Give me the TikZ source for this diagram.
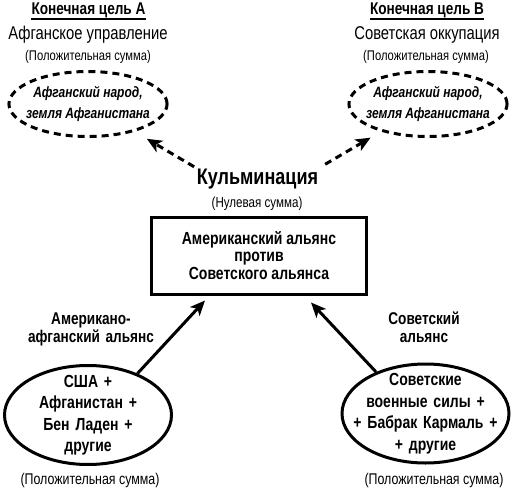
\documentclass[tikz,border=0pt]{standalone}
\usepackage{fontspec}
\setmainfont{Liberation Sans}[FakeStretch=0.8]
\newfontfamily\widespace{Liberation Sans}[FakeStretch=0.8, WordSpace=1.5]
\usetikzlibrary{arrows.meta, shapes.geometric}

\begin{document}
\begin{tikzpicture}[
    x=1pt, y=-1pt,
    >={Stealth[length=15pt, width=13pt, inset=4pt]},
    goal/.style={font=\fontsize{17}{20}\selectfont\bfseries, inner sep=0pt, anchor=base},
    outcome/.style={font=\fontsize{18.5}{22}\selectfont, inner sep=0pt, anchor=base},
    sumnote/.style={font=\fontsize{14}{16}\selectfont, inner sep=0pt, anchor=base},
    people/.style={draw, ellipse, line width=3pt, dash pattern=on 7pt off 5pt, minimum width=156pt, minimum height=65pt, inner xsep=-6pt, inner ysep=0pt, align=center, font=\fontsize{15}{21}\selectfont\bfseries\itshape},
    ally/.style={draw, ellipse, line width=3pt, minimum width=167pt, minimum height=99pt, inner xsep=-20pt, inner ysep=-8pt, align=center, font=\widespace\fontsize{17.5}{21.5}\selectfont\bfseries},
    allylabel/.style={align=center, font=\widespace\fontsize{17}{18}\selectfont\bfseries, inner sep=0pt, anchor=base},
    mainbox/.style={draw, rectangle, line width=3pt, minimum width=215pt, minimum height=77pt, align=center, font=\fontsize{17.5}{17.5}\selectfont\bfseries},
    arr/.style={->, line width=3pt},
    dasharr/.style={->, line width=3pt, dash pattern=on 7pt off 5pt}
]
\useasboundingbox (0,0) rectangle (513,489);

% left goal
\node[goal] (goalA) at (88.5,15) {Конечная цель А};
\draw[line width=2pt] ([yshift=-4.5pt]goalA.base west) -- ([yshift=-4.5pt]goalA.base east);
\node[outcome] (govA) at (88,40) {Афганское управление};
\node[sumnote] (sumA) at (88,61) {(Положительная сумма)};
\node[people] (peopleA) at (88,104) {Афганский народ,\\земля Афганистана};

% right goal
\node[goal] (goalB) at (427,15) {Конечная цель В};
\draw[line width=2pt] ([yshift=-4.5pt]goalB.base west) -- ([yshift=-4.5pt]goalB.base east);
\node[outcome] (govB) at (427,40) {Советская оккупация};
\node[sumnote] (sumB) at (426,61) {(Положительная сумма)};
\node[people] (peopleB) at (428,104) {Афганский народ,\\земля Афганистана};

% climax
\node[font=\fontsize{22.5}{26}\selectfont\bfseries, inner sep=0pt, anchor=base] (climax) at (257.5,184) {Кульминация};
\node[sumnote, font=\fontsize{14.5}{17}\selectfont] (zerosum) at (257,207) {(Нулевая сумма)};
\node[mainbox] (summit) at (259,255.5) {Американский альянс\\против\\Советского альянса};

\draw[dasharr, shorten <=3pt, shorten >=14pt] (climax.north west) -- (peopleA);
\draw[dasharr, shorten <=8pt, shorten >=12pt] (climax.north east) -- (peopleB);

% alliances
\node[allylabel] (labelA) at (91,342) {Американо-\\афганский альянс};
\node[ally] (allyA) at (88,415) {США +\\Афганистан +\\Бен Ладен +\\другие};
\node[sumnote, font=\fontsize{15.5}{18}\selectfont] (sumC) at (90,484) {(Положительная сумма)};

\node[allylabel] (labelB) at (424,342) {Советский\\альянс};
\node[ally] (allyB) at (425.5,413.5) {Советские\\военные силы +\\+ Бабрак Кармаль +\\+ другие};
\node[sumnote, font=\fontsize{15.5}{18}\selectfont] (sumD) at (434,484) {(Положительная сумма)};

\draw[arr] (allyA.40) -- ([xshift=55pt, yshift=-5pt]summit.south west);
\draw[arr] (allyB.140) -- ([xshift=-57pt, yshift=-7pt]summit.south east);

\end{tikzpicture}
\end{document}
